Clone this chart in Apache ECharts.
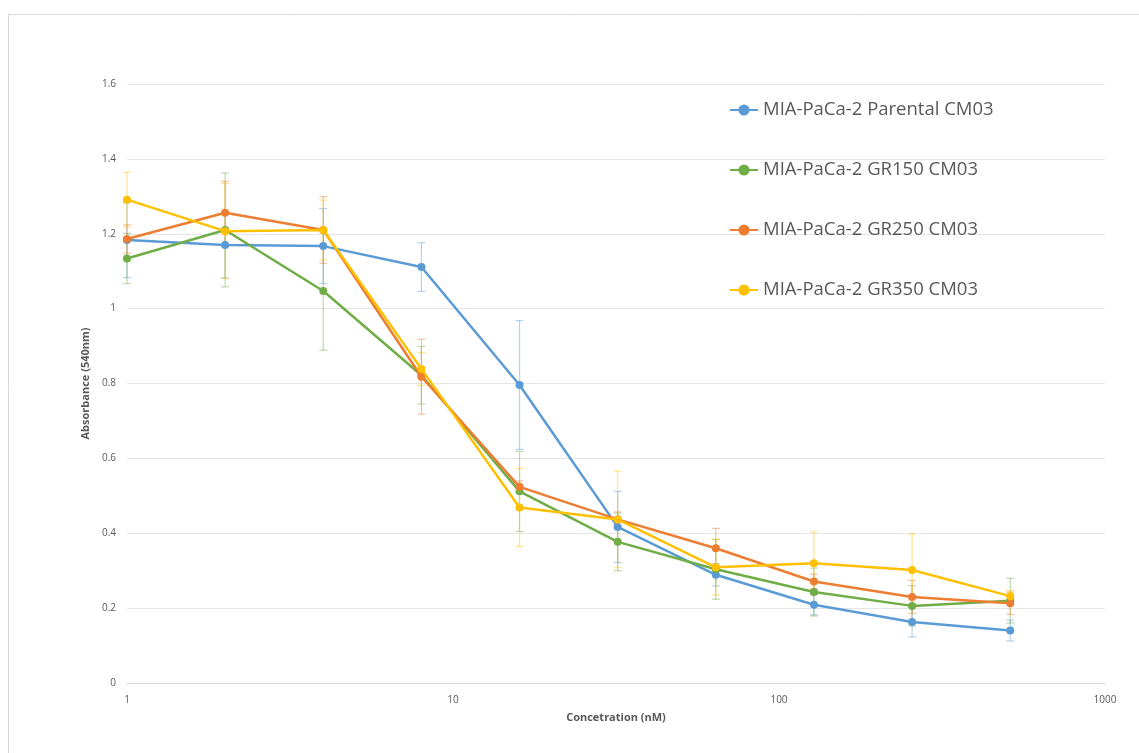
<!DOCTYPE html>
<html>
<head>
<meta charset="utf-8">
<script src="https://cdn.jsdelivr.net/npm/echarts@6/dist/echarts.min.js"></script>
<style>html,body{margin:0;padding:0;background:#fff;}#c{width:1139px;height:753px;}</style>
</head>
<body>
<div id="c"></div>
<script>
const concentrations = [1, 2, 4, 8, 16, 32, 64, 128, 256, 512];
const seriesNames = ['MIA-PaCa-2 Parental CM03', 'MIA-PaCa-2 GR150 CM03', 'MIA-PaCa-2 GR250 CM03', 'MIA-PaCa-2 GR350 CM03'];
const parental = [1.183, 1.170, 1.167, 1.111, 0.796, 0.417, 0.289, 0.209, 0.163, 0.140];
const gr150 = [1.134, 1.210, 1.047, 0.822, 0.512, 0.377, 0.304, 0.243, 0.206, 0.220];
const gr250 = [1.186, 1.256, 1.210, 0.818, 0.524, 0.437, 0.360, 0.271, 0.230, 0.213];
const gr350 = [1.291, 1.207, 1.210, 0.839, 0.469, 0.437, 0.309, 0.320, 0.302, 0.232];
const errParental = [0.100, 0.088, 0.100, 0.065, 0.172, 0.095, 0.030, 0.027, 0.040, 0.028];
const errGr150 = [0.067, 0.152, 0.158, 0.077, 0.107, 0.077, 0.080, 0.064, 0.054, 0.060];
const errGr250 = [0.038, 0.084, 0.089, 0.100, 0.016, 0.020, 0.053, 0.020, 0.044, 0.030];
const errGr350 = [0.073, 0.127, 0.080, 0.044, 0.104, 0.129, 0.074, 0.084, 0.096, 0.015];
const yTicks = [0, 0.2, 0.4, 0.6, 0.8, 1, 1.2, 1.4, 1.6];
const xTicks = [1, 10, 100, 1000];

const colors = ['#5B9BD5', '#70AD47', '#ED7D31', '#FFC000'];
const values = [parental, gr150, gr250, gr350];
const errs = [errParental, errGr150, errGr250, errGr350];
const FONT = 'Open Sans';

const series = [];
values.forEach((vals, i) => {
  series.push({
    type: 'custom',
    name: seriesNames[i] + ' err',
    silent: true,
    z: 1,
    data: concentrations.map((c, k) => [c, vals[k] - errs[i][k], vals[k] + errs[i][k]]),
    renderItem: function (params, api) {
      const x = api.value(0);
      const lo = api.coord([x, api.value(1)]);
      const hi = api.coord([x, api.value(2)]);
      const w = 4;
      const st = { stroke: colors[i], lineWidth: 1.2, opacity: 0.45 };
      return {
        type: 'group',
        children: [
          { type: 'line', shape: { x1: lo[0], y1: lo[1], x2: hi[0], y2: hi[1] }, style: st },
          { type: 'line', shape: { x1: lo[0] - w, y1: lo[1], x2: lo[0] + w, y2: lo[1] }, style: st },
          { type: 'line', shape: { x1: hi[0] - w, y1: hi[1], x2: hi[0] + w, y2: hi[1] }, style: st }
        ]
      };
    }
  });
});
values.forEach((vals, i) => {
  series.push({
    type: 'line',
    name: seriesNames[i],
    z: 3 + i,
    data: concentrations.map((c, k) => [c, vals[k]]),
    symbol: 'circle',
    symbolSize: 8,
    lineStyle: { width: 2.5, color: colors[i] },
    itemStyle: { color: colors[i] },
    emphasis: { disabled: true }
  });
});

const chart = echarts.init(document.getElementById('c'));
chart.setOption({
  animation: false,
  color: colors,
  graphic: [{
    type: 'rect',
    shape: { x: 8.5, y: 14.5, width: 1140, height: 745 },
    style: { fill: 'none', stroke: '#d9d9d9', lineWidth: 1 },
    silent: true
  }],
  grid: { left: 127, right: 34, top: 84, bottom: 70 },
  legend: {
    orient: 'vertical',
    left: 724,
    top: 95,
    itemGap: 40,
    itemWidth: 28,
    itemHeight: 14,
    data: seriesNames,
    textStyle: { fontFamily: FONT, fontSize: 18.5, color: '#595959', lineHeight: 20 }
  },
  xAxis: {
    type: 'log',
    logBase: 10,
    min: 1,
    max: 1000,
    name: 'Concetration (nM)',
    nameLocation: 'middle',
    nameGap: 29,
    nameTextStyle: { fontFamily: FONT, fontSize: 11, fontWeight: 'bold', color: '#595959' },
    axisLine: { show: true, lineStyle: { color: '#d9d9d9' } },
    axisTick: { show: false },
    splitLine: { show: false },
    minorTick: { show: false },
    axisLabel: {
      fontFamily: FONT, fontSize: 10, color: '#595959', margin: 12,
      formatter: v => (xTicks.indexOf(Math.round(v)) >= 0 ? String(Math.round(v)) : '')
    }
  },
  yAxis: {
    type: 'value',
    min: 0,
    max: 1.6,
    interval: 0.2,
    name: 'Absorbance (540nm)',
    nameLocation: 'middle',
    nameGap: 30,
    nameTextStyle: { fontFamily: FONT, fontSize: 11, fontWeight: 'bold', color: '#595959' },
    axisLine: { show: false },
    axisTick: { show: false },
    splitLine: { show: true, lineStyle: { color: '#e6e6e6', width: 1 } },
    axisLabel: {
      fontFamily: FONT, fontSize: 10, color: '#595959', margin: 11,
      formatter: v => {
        const t = yTicks.find(t => Math.abs(t - v) < 1e-6);
        return t === undefined ? '' : String(Math.round(t * 10) / 10);
      }
    }
  },
  series: series
});
</script>
</body>
</html>
